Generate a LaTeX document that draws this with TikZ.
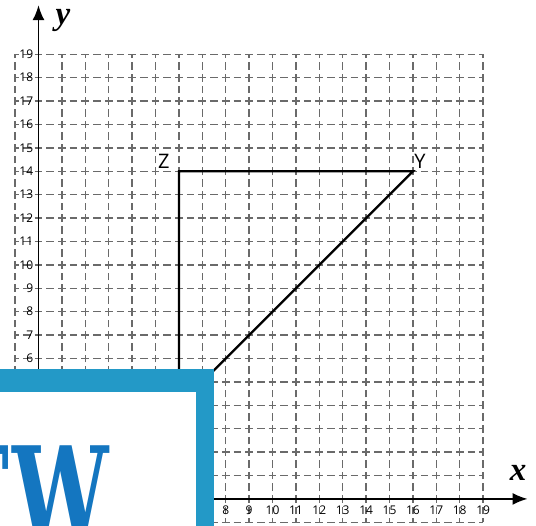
\documentclass[tikz,border=0pt]{standalone}
\usepackage{fontspec}
\setmainfont{Open Sans}
\newfontfamily\axisfont{Liberation Serif}
\newfontfamily\logofont{DejaVu Serif}
\usetikzlibrary{arrows.meta}
\definecolor{gridgray}{HTML}{6A6A6A}
\definecolor{boxblue}{HTML}{2399C7}
\definecolor{logoblue}{HTML}{1476C0}
\tikzset{
  gridline/.style={gridgray, line width=1.5pt, dash pattern=on 7.7pt off 4pt, dash phase=3.85pt},
  axisline/.style={-{Latex[length=15pt,width=12pt]}, line width=1.8pt},
  numlabel/.style={inner sep=0pt, font=\fontsize{12}{14}\selectfont},
  pointlabel/.style={inner sep=0pt, font=\fontsize{20}{24}\selectfont},
  axislabel/.style={inner sep=0pt, font=\axisfont\bfseries\itshape\fontsize{33}{38}\selectfont},
  logotext/.style={inner sep=0pt, anchor=base east, xscale=0.66, text=logoblue,
    font=\logofont\bfseries\fontsize{130}{130}\selectfont}
}
\begin{document}
\begin{tikzpicture}[x=23.4pt, y=23.4pt]
\useasboundingbox (-1.645,-1.154) rectangle (21.26,21.32);
% grid
\foreach \i in {-1,...,19} {
  \draw[gridline] (\i,-1) -- (\i,19);
  \draw[gridline] (-1,\i) -- (19,\i);
}
% axes
\draw[axisline] (0,0) -- (20.9,0);
\draw[axisline] (0,0) -- (0,21.1);
\node[axislabel] (xname) at (20.5,1.1) {x};
\node[axislabel] (yname) at (1.05,20.45) {y};
\foreach \n in {6,...,19}
  \node[numlabel, anchor=east] (yl\n) at (-0.22,\n) {\n};
\foreach \n in {8,...,19}
  \node[numlabel] (xl\n) at (\n,-0.47) {\n};
% triangle
\coordinate (X) at (6,4);
\coordinate (Y) at (16,14);
\coordinate (Z) at (6,14);
\draw[line width=2.2pt] (X) -- (Z) -- (Y) -- cycle;
\node[pointlabel] (zname) at (5.36,14.41) {Z};
\node[pointlabel] (yptname) at (16.3,14.41) {Y};
% logo box
\fill[boxblue] (-3,-3) rectangle (7.51,5.54);
\fill[white] (-3,-3) rectangle (6.73,4.59);
\node[logotext] (logo) at (3.01,-1.79) {T\kern5pt W};
\end{tikzpicture}
\end{document}
